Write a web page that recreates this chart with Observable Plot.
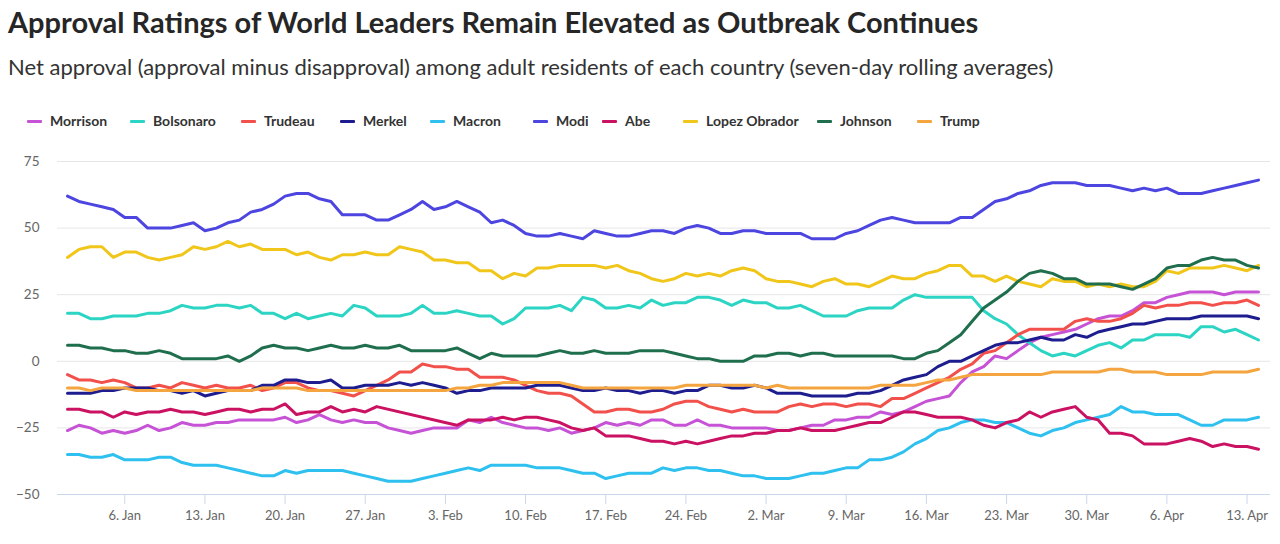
<!DOCTYPE html>
<html>
<head>
<meta charset="utf-8">
<script src="https://cdn.jsdelivr.net/npm/d3@7"></script>
<script src="https://cdn.jsdelivr.net/npm/@observablehq/plot@0.6"></script>
<style>
  html, body { margin: 0; padding: 0; background: #fff; width: 1280px; height: 544px; overflow: hidden; }
  body { position: relative; font-family: Lato, "Open Sans", sans-serif; }
  #title { position: absolute; left: 8px; top: 2px; font-size: 29px; font-weight: 700; color: #262626; white-space: nowrap; line-height: 40px; }
  #subtitle { position: absolute; left: 8px; top: 52px; font-size: 22px; color: #333; white-space: nowrap; line-height: 30px; }
  #legend { position: absolute; left: 0; top: 110px; width: 1280px; height: 22px; font-size: 14px; font-weight: 700; color: #333; line-height: 22px; }
  .item { position: absolute; top: 0; display: flex; align-items: center; white-space: nowrap; }
  .sw { width: 15px; height: 3px; border-radius: 1px; margin-right: 8px; }
  #chart { position: absolute; left: 0; top: 140px; }
</style>
</head>
<body>
<div id="title">Approval Ratings of World Leaders Remain Elevated as Outbreak Continues</div>
<div id="subtitle">Net approval (approval minus disapproval) among adult residents of each country (seven-day rolling averages)</div>
<div id="legend"></div>
<div id="chart"></div>
<script>
// Daily values starting 2020-01-01 (105 days, through 2020-04-14)
const startDate = "2020-01-01";
const leaders = ["Morrison","Bolsonaro","Trudeau","Merkel","Macron","Modi","Abe","Lopez Obrador","Johnson","Trump"];
const colors = ["#c653d6","#2bd4c3","#f2504b","#1d1d8f","#2ec0ef","#4d45e0","#cb1262","#f1c61a","#1f6e4d","#f5a540"];
const legendX = [27, 130, 241, 340, 430, 533, 602, 683, 817, 917];

const morrison = [-26,-24,-25,-27,-26,-27,-26,-24,-26,-25,-23,-24,-24,-23,-23,-22,-22,-22,-22,-21,-23,-22,-20,-22,
  -23,-22,-23,-23,-25,-26,-27,-26,-25,-25,-25,-22,-23,-21,-23,-24,-25,-25,-26,-25,-27,
  -26,-25,-23,-24,-23,-24,-22,-22,-24,-24,-22,-24,-24,-25,-25,-25,-25,-26,-26,-25,-24,
  -24,-22,-22,-21,-21,-19,-20,-19,-17,-15,-14,-13,-8,-4,-2,2,1,4,7,9,
  10,11,12,14,16,17,17,19,22,22,24,25,26,26,26,25,26,26,26];
const bolsonaro = [18,18,16,16,17,17,17,18,18,19,21,20,20,21,21,20,21,18,18,16,18,16,17,18,
  17,21,20,17,17,17,18,21,18,18,19,18,17,17,14,16,20,20,20,21,19,
  24,23,20,20,21,20,23,21,22,22,24,24,23,21,23,22,22,20,20,21,19,
  17,17,17,19,20,20,20,23,25,24,24,24,24,24,19,16,14,10,7,4,
  2,3,2,4,6,7,5,8,8,10,10,10,9,13,13,11,12,10,8];
const trudeau = [-5,-7,-7,-8,-7,-8,-10,-10,-9,-10,-8,-9,-10,-9,-10,-10,-9,-11,-10,-8,-8,-10,-11,-11,
  -12,-13,-11,-9,-7,-4,-4,-1,-2,-2,-3,-3,-6,-6,-6,-7,-9,-11,-12,-12,-13,
  -16,-19,-19,-18,-18,-19,-19,-18,-16,-15,-15,-17,-18,-19,-18,-19,-19,-19,-17,-16,-17,
  -16,-16,-17,-16,-16,-17,-14,-14,-12,-10,-8,-6,-3,-1,3,4,7,10,12,12,
  12,12,15,16,15,15,16,18,21,20,21,21,22,22,21,22,22,23,21];
const merkel = [-12,-12,-12,-11,-11,-10,-10,-10,-11,-11,-12,-11,-13,-12,-11,-11,-11,-9,-9,-7,-7,-8,-8,-7,
  -10,-10,-9,-9,-9,-8,-9,-8,-9,-10,-12,-11,-11,-10,-10,-10,-10,-9,-9,-9,-10,
  -11,-11,-10,-11,-11,-12,-11,-11,-12,-11,-11,-9,-9,-10,-10,-9,-10,-12,-12,-12,-13,
  -13,-13,-13,-12,-12,-11,-9,-7,-6,-5,-2,0,0,2,4,6,7,7,8,9,
  8,8,10,9,11,12,13,14,14,15,16,16,16,17,17,17,17,17,16];
const macron = [-35,-35,-36,-36,-35,-37,-37,-37,-36,-36,-38,-39,-39,-39,-40,-41,-42,-43,-43,-41,-42,-41,-41,-41,
  -41,-42,-43,-44,-45,-45,-45,-44,-43,-42,-41,-40,-41,-39,-39,-39,-39,-40,-40,-40,-41,
  -42,-42,-44,-43,-42,-42,-42,-40,-41,-40,-40,-41,-41,-42,-43,-43,-44,-44,-44,-43,-42,
  -42,-41,-40,-40,-37,-37,-36,-34,-31,-29,-26,-25,-23,-22,-22,-23,-23,-25,-27,-28,
  -26,-25,-23,-22,-21,-20,-17,-19,-19,-20,-20,-20,-22,-24,-24,-22,-22,-22,-21];
const modi = [62,60,59,58,57,54,54,50,50,50,51,52,49,50,52,53,56,57,59,62,63,63,61,60,
  55,55,55,53,53,55,57,60,57,58,60,58,56,52,53,51,48,47,47,48,47,
  46,49,48,47,47,48,49,49,48,50,51,50,48,48,49,49,48,48,48,48,46,
  46,46,48,49,51,53,54,53,52,52,52,52,54,54,57,60,61,63,64,66,
  67,67,67,66,66,66,65,64,65,64,65,63,63,63,64,65,66,67,68];
const abe = [-18,-18,-19,-19,-21,-19,-20,-19,-19,-18,-19,-19,-20,-19,-18,-18,-19,-18,-18,-16,-20,-19,-19,-17,
  -19,-18,-19,-17,null,null,null,null,null,null,-24,-22,-22,-22,-21,-22,-21,-21,-22,-23,-25,
  -26,-25,-28,-28,-28,-29,-30,-30,-31,-30,-31,-30,-29,-28,-28,-27,-27,-26,-26,-25,-26,
  -26,-26,-25,-24,-23,-23,-21,-19,-19,-20,-21,-21,-21,-22,-24,-25,-23,-22,-19,-21,
  -19,-18,-17,-21,-22,-27,-27,-28,-31,-31,-31,-30,-29,-30,-32,-31,-32,-32,-33];
const lopezObrador = [39,42,43,43,39,41,41,39,38,39,40,43,42,43,45,43,44,42,42,42,40,41,39,38,
  40,40,41,40,40,43,42,41,38,38,37,37,34,34,31,33,32,35,35,36,36,
  36,36,35,36,34,33,31,30,31,33,32,33,32,34,35,34,31,30,30,29,28,
  30,31,29,29,28,30,32,31,31,33,34,36,36,32,32,30,32,30,29,28,
  31,30,30,28,29,28,29,28,28,30,34,33,35,35,35,36,35,34,36];
const johnson = [6,6,5,5,4,4,3,3,4,3,1,1,1,1,2,0,2,5,6,5,5,4,5,6,
  5,5,6,5,5,6,4,4,4,4,5,3,1,3,2,2,2,2,3,4,3,
  3,4,3,3,3,4,4,4,3,2,1,1,0,0,0,2,2,3,3,2,3,
  3,2,2,2,2,2,2,1,1,3,4,7,10,15,20,23,26,30,33,34,
  33,31,31,29,29,29,28,27,29,31,35,36,36,38,39,38,38,36,35];
const trump = [-10,-10,-11,-10,-10,-10,-11,-11,-11,-11,-11,-11,-11,-11,-11,-11,-11,-10,-10,-10,-10,-11,-11,-11,
  -11,-11,-11,-11,-11,-11,-11,-11,-11,-11,-10,-10,-9,-9,-8,-8,-8,-8,-8,-8,-9,
  -10,-10,-10,-10,-10,-10,-10,-10,-10,-9,-9,-9,-9,-9,-9,-9,-10,-9,-10,-10,-10,
  -10,-10,-10,-10,-10,-9,-9,-9,-9,-8,-7,-7,-6,-5,-5,-5,-5,-5,-5,-5,
  -4,-4,-4,-4,-4,-3,-3,-4,-4,-4,-5,-5,-5,-5,-4,-4,-4,-4,-3];

const tickDates = ["2020-01-06","2020-01-13","2020-01-20","2020-01-27","2020-02-03","2020-02-10","2020-02-17",
  "2020-02-24","2020-03-02","2020-03-09","2020-03-16","2020-03-23","2020-03-30","2020-04-06","2020-04-13"];
const yTicks = [-50, -25, 0, 25, 50, 75];

const seriesValues = [morrison, bolsonaro, trudeau, merkel, macron, modi, abe, lopezObrador, johnson, trump];

const start = new Date(startDate + "T00:00:00Z");
const DAY = 864e5;
const rows = [];
leaders.forEach((name, i) => {
  seriesValues[i].forEach((v, d) => {
    if (v !== null) rows.push({leader: name, date: new Date(+start + d * DAY), value: v});
  });
});

// legend
const legend = document.getElementById("legend");
leaders.forEach((name, i) => {
  const it = document.createElement("div");
  it.className = "item";
  it.style.left = legendX[i] + "px";
  it.innerHTML = `<span class="sw" style="background:${colors[i]}"></span><span>${name}</span>`;
  legend.appendChild(it);
});

const lastDate = new Date(+start + (morrison.length - 1) * DAY);
const pxPerDay = 11.453;
const domain = [new Date(+start - (10 / pxPerDay) * DAY), new Date(+lastDate + (12 / pxPerDay) * DAY)];

const fmt = d3.utcFormat("%-d. %b");
const chart = Plot.plot({
  width: 1280,
  height: 404,
  marginLeft: 57,
  marginRight: 10,
  marginTop: 21,
  marginBottom: 50,
  style: {fontFamily: "Lato, 'Open Sans', sans-serif", fontSize: "13px", background: "#fff"},
  x: {type: "utc", domain},
  y: {domain: [-50, 75]},
  color: {domain: leaders, range: colors},
  marks: [
    Plot.ruleY(yTicks.filter(t => t !== -50), {stroke: "#e6e6e6", strokeWidth: 1}),
    Plot.ruleY([-50], {stroke: "#ccd6eb", strokeWidth: 1}),
    Plot.axisY({ticks: yTicks, tickSize: 0, tickPadding: 18, fill: "#666", fontSize: 13.5, label: null}),
    Plot.axisX({ticks: tickDates.map(s => new Date(s + "T00:00:00Z")), tickFormat: fmt, tickSize: 10, tickPadding: 6,
      stroke: "#ccd6eb", fill: "#666", fontSize: 13, label: null}),
    Plot.line(rows, {x: "date", y: "value", z: "leader", stroke: "leader", strokeWidth: 3,
      strokeLinejoin: "round", strokeLinecap: "round"})
  ]
});
document.getElementById("chart").appendChild(chart);
</script>
</body>
</html>
